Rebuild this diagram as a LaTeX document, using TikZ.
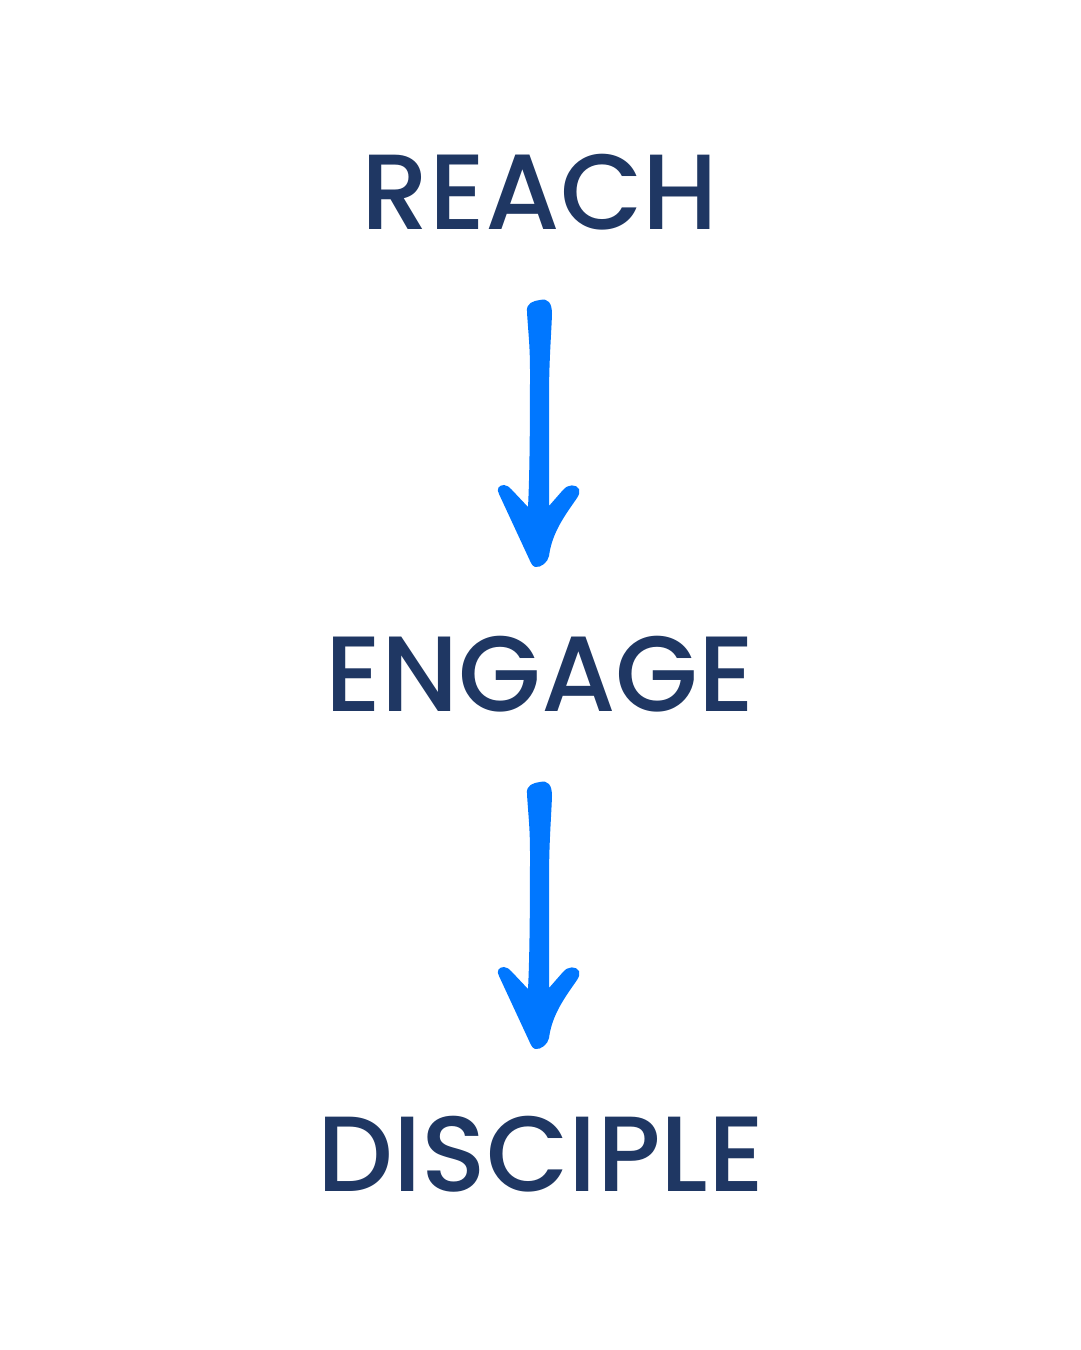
\documentclass[tikz,border=0pt]{standalone}
\usepackage{fontspec}
\newfontfamily\popfont{Poppins}[UprightFont=* Medium]
\definecolor{navy}{HTML}{1F3763}
\definecolor{arrowblue}{HTML}{0077FF}
\newcommand\myarrowshape{%
  (527,312) .. controls (526,303) and (533,301) .. (540,300)
  .. controls (548,298) and (552,303) .. (552,314)
  .. controls (551,340) and (549,360) .. (549,400) -- (549,506) -- (563,490)
  .. controls (568,484) and (576,484) .. (579,489)
  .. controls (580,492) and (579,495) .. (577,498)
  .. controls (566,514) and (552,532) .. (549,556)
  .. controls (548,562) and (541,568) .. (535,567)
  .. controls (533,566) and (532,565) .. (531,563) -- (499,494)
  .. controls (496,489) and (499,485) .. (504,485)
  .. controls (507,485) and (509,487) .. (512,490) -- (528,507)
  .. controls (530,470) and (530,400) .. (530,370)
  .. controls (530,345) and (528,330) .. (527,312) -- cycle}
\tikzset{
  word/.style={font=\popfont\fontsize{107}{107}\selectfont, text=navy, inner sep=0pt, anchor=base},
  handarrow/.style={fill=arrowblue, draw=none}
}
\begin{document}
\begin{tikzpicture}[x=1pt,y=1pt]
\fill[white] (0,0) rectangle (1080,1350);
\useasboundingbox (0,0) rectangle (1080,1350);
\node[word] (reach) at (540,1120) {REACH};
\node[word] (engage) at (540,638) {ENGAGE};
\node[word] (disciple) at (541,158) {DISCIPLE};
\begin{scope}[shift={(0,1350)}, yscale=-1]
  \path[handarrow] \myarrowshape;
\end{scope}
\begin{scope}[shift={(0,868)}, yscale=-1]
  \path[handarrow] \myarrowshape;
\end{scope}
\end{tikzpicture}
\end{document}
